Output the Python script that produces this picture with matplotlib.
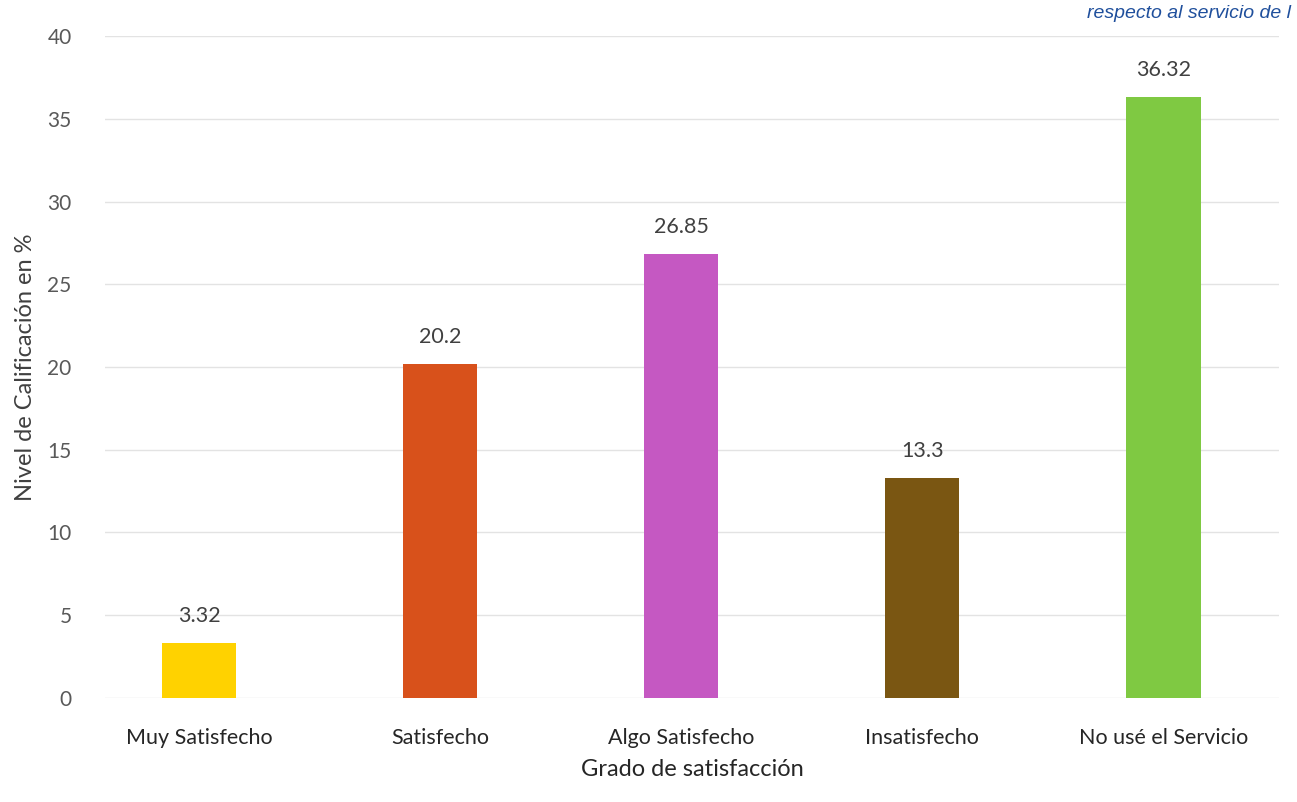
import matplotlib
matplotlib.use("Agg")
import matplotlib.pyplot as plt

categories = ["Muy Satisfecho", "Satisfecho", "Algo Satisfecho", "Insatisfecho", "No usé el Servicio"]
values = [3.32, 20.2, 26.85, 13.3, 36.32]
value_labels = ["3.32", "20.2", "26.85", "13.3", "36.32"]
colors = ["#FFD200", "#D8511B", "#C558C2", "#7A5612", "#7FC942"]
yticks = [0, 5, 10, 15, 20, 25, 30, 35, 40]

plt.rcParams['font.family'] = ['Lato', 'DejaVu Sans']

fig = plt.figure(figsize=(12.97, 8.02), dpi=100)
ax = fig.add_axes([0.081, 0.13, 0.905, 0.825])

x = range(len(categories))
ax.bar(x, values, width=0.31, color=colors, zorder=3)
for xi, v, lab in zip(x, values, value_labels):
    ax.text(xi, v + 1.0, lab, ha='center', va='bottom', fontsize=15.5, color='#404040')

ax.set_ylim(0, 40)
ax.set_xlim(-0.39, 4.48)
ax.set_yticks(yticks)
ax.set_yticklabels([str(t) for t in yticks], fontsize=15, color='#595959')
ax.set_xticks(list(x))
ax.set_xticklabels(categories, fontsize=15.5, color='#262626')
ax.tick_params(axis='x', length=0, pad=22)
ax.tick_params(axis='y', length=0, pad=24)
ax.grid(axis='y', color='#e3e3e3', linewidth=1, zorder=0)
for s in ax.spines.values():
    s.set_visible(False)

ax.set_xlabel("Grado de satisfacción", fontsize=17, color='#262626', labelpad=8)
ax.set_ylabel("Nivel de Calificación en %", fontsize=17, color='#404040', labelpad=8)

fig.text(0.995, 0.983, "respecto al servicio de l", ha='right', va='center',
         fontsize=14, style='italic', color='#1f4f9c', family=['Liberation Sans', 'DejaVu Sans'])

fig.savefig("out.png", dpi=100, facecolor='white')
